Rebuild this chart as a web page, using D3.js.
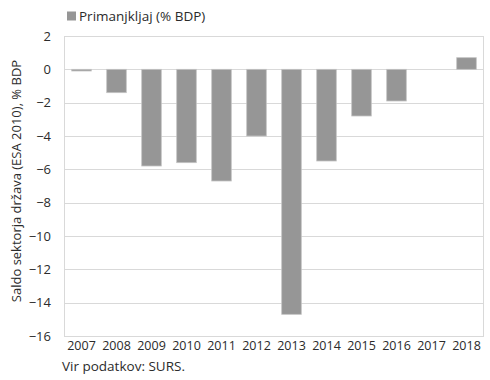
<!DOCTYPE html>
<html>
<head>
<meta charset="utf-8">
<script src="https://cdn.jsdelivr.net/npm/d3@7"></script>
<style>
  html, body { margin: 0; padding: 0; background: #fff; }
  text { font-family: "Open Sans", "Noto Sans", sans-serif; fill: #2b2b2b; }
</style>
</head>
<body>
<svg id="chart" width="490" height="380"></svg>
<script>
const years = ["2007","2008","2009","2010","2011","2012","2013","2014","2015","2016","2017","2018"];
const deficit = [-0.1, -1.4, -5.8, -5.6, -6.7, -4.0, -14.7, -5.5, -2.8, -1.9, 0.0, 0.7];
const yTicks = [2, 0, -2, -4, -6, -8, -10, -12, -14, -16];
const seriesName = "Primanjkljaj (% BDP)";
const yTitle = "Saldo sektorja država (ESA 2010), % BDP";
const sourceNote = "Vir podatkov: SURS.";

const svg = d3.select("#chart");
const m = {left: 64, right: 6, top: 36, bottom: 44};
const W = 490, H = 380;
const x = d3.scaleBand().domain(years).range([m.left, W - m.right]).paddingInner(0.44).paddingOuter(0.22);
const y = d3.scaleLinear().domain([-16, 2]).range([H - m.bottom, m.top]);

// gridlines
svg.append("g").selectAll("line").data(yTicks).join("line")
  .attr("x1", m.left).attr("x2", W - m.right)
  .attr("y1", d => Math.round(y(d)) + 0.5).attr("y2", d => Math.round(y(d)) + 0.5)
  .attr("stroke", "#d9d9d9").attr("stroke-width", 1);
// frame
svg.append("rect")
  .attr("x", m.left + 0.5).attr("y", Math.round(y(2)) + 0.5)
  .attr("width", W - m.right - m.left - 1).attr("height", Math.round(y(-16)) - Math.round(y(2)))
  .attr("fill", "none").attr("stroke", "#d9d9d9");

// bars
svg.append("g").selectAll("rect").data(years).join("rect")
  .attr("x", d => x(d))
  .attr("width", x.bandwidth())
  .attr("y", (d, i) => y(Math.max(0, deficit[i])))
  .attr("height", (d, i) => Math.abs(y(deficit[i]) - y(0)))
  .attr("fill", "#969696")
  .attr("stroke", "#c4c4c4").attr("stroke-width", 0.8);

// y axis labels
const yAxis = d3.axisLeft(y).tickValues(yTicks).tickSize(0).tickPadding(13);
const gy = svg.append("g").attr("transform", `translate(${m.left},0)`).call(yAxis);
gy.select(".domain").remove();
gy.selectAll("text").style("font-size", "13px").style("font-family", "Open Sans").attr("fill", "#2b2b2b");

// x axis labels
const xAxis = d3.axisBottom(x).tickSize(0).tickPadding(5);
const gx = svg.append("g").attr("transform", `translate(0,${H - m.bottom})`).call(xAxis);
gx.select(".domain").remove();
gx.selectAll("text").style("font-size", "12.5px").style("font-family", "Open Sans").attr("fill", "#2b2b2b");

// y title
svg.append("text")
  .attr("transform", `translate(21,${(y(2) + y(-16)) / 2 - 5}) rotate(-90)`)
  .attr("text-anchor", "middle")
  .style("font-size", "13px")
  .text(yTitle);

// legend
svg.append("rect").attr("x", 67).attr("y", 11.5).attr("width", 9).attr("height", 9).attr("fill", "#969696");
svg.append("text").attr("x", 79).attr("y", 20.5).style("font-size", "13.5px").text(seriesName);

// source
svg.append("text").attr("x", 62).attr("y", 371).style("font-size", "13.5px").text(sourceNote);
</script>
</body>
</html>
